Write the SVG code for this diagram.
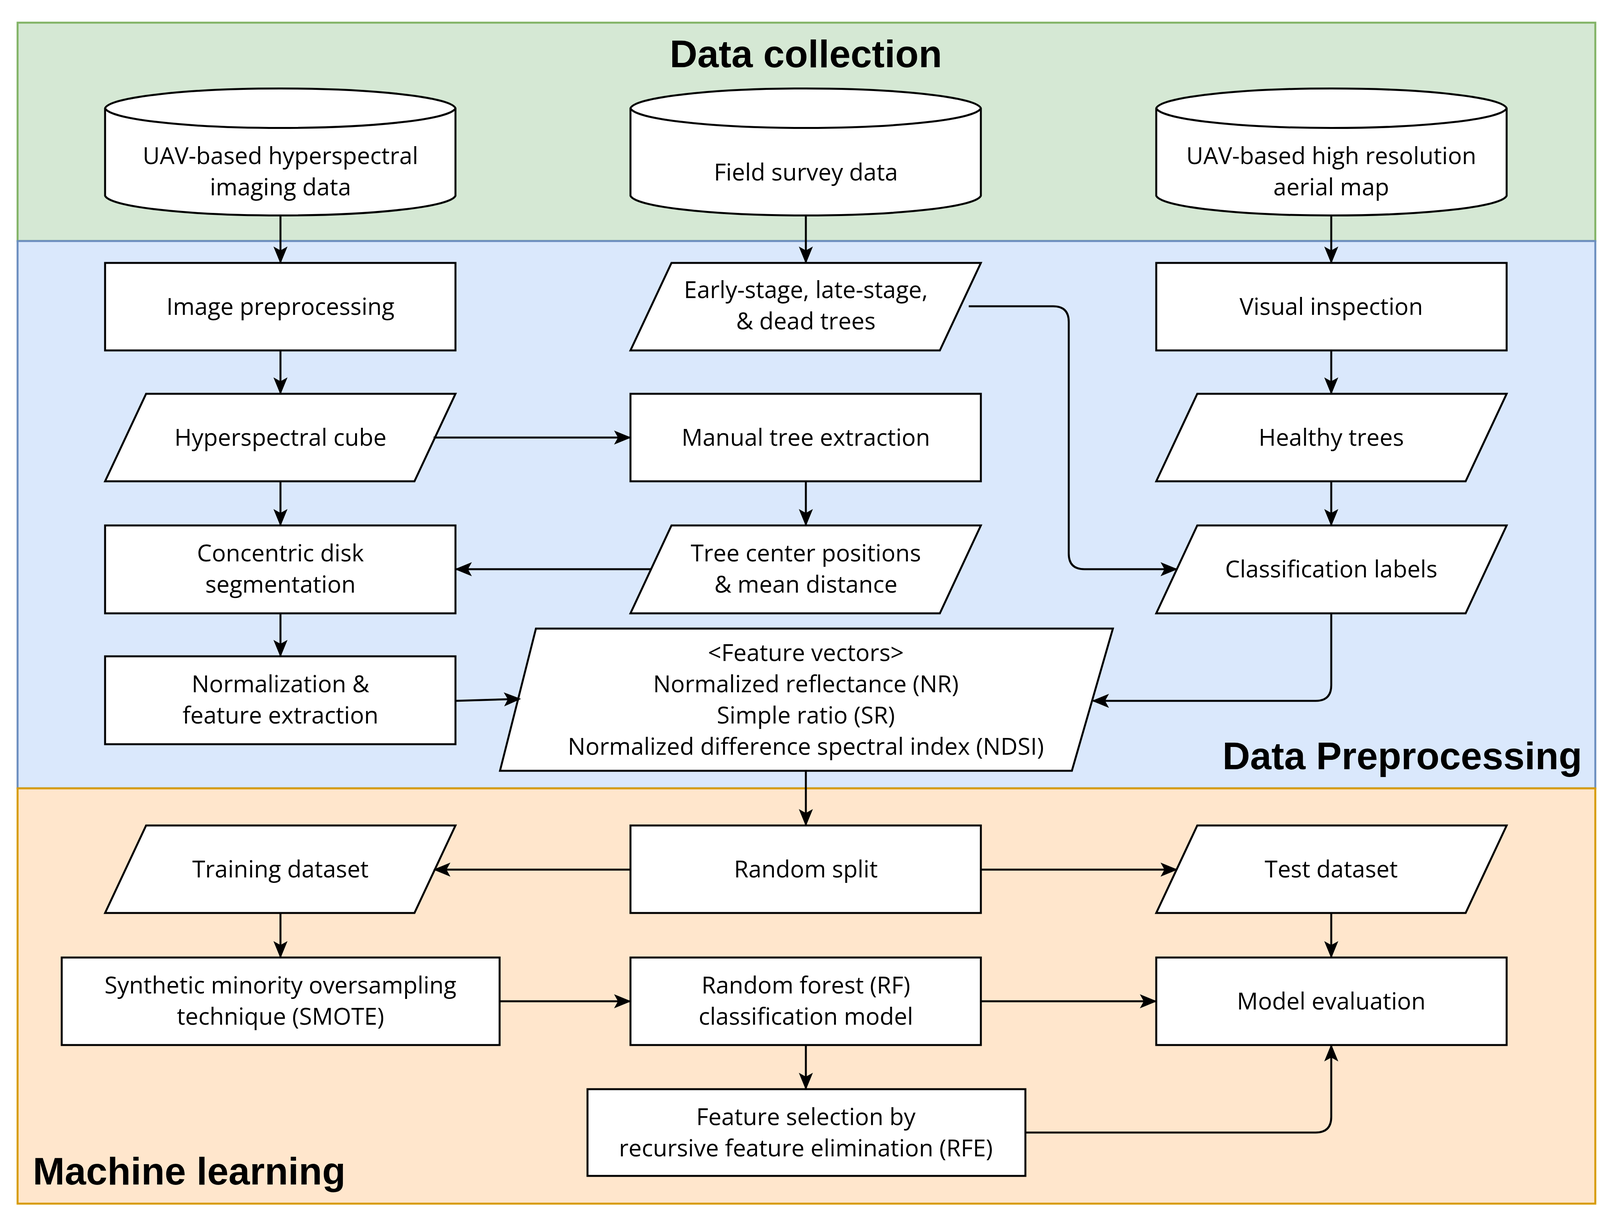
<svg xmlns="http://www.w3.org/2000/svg" width="4136" height="3128" viewBox="0 0 4136 3128">
<style>
.n{fill:#fff;stroke:#000;stroke-width:5}
.t{font-family:"Open Sans","Liberation Sans",Arial,sans-serif;font-size:60px;text-anchor:middle;fill:#000}
.h{font-family:"Liberation Sans",Arial,sans-serif;font-size:98px;font-weight:bold;fill:#000}
.c{fill:none;stroke:#000;stroke-width:5}
</style>
<defs><marker id="a" markerWidth="44" markerHeight="36" refX="40" refY="18" orient="auto" markerUnits="userSpaceOnUse" viewBox="0 0 44 36"><path d="M0,0 L44,18 L0,36 L10,18 Z" fill="#000"/></marker></defs>
<rect x="45" y="58" width="4039" height="559" fill="#d5e8d4" stroke="#82b366" stroke-width="5"/>
<rect x="45" y="617" width="4039" height="1401" fill="#dae8fc" stroke="#6c8ebf" stroke-width="5"/>
<rect x="45" y="2018" width="4039" height="1063" fill="#ffe6cc" stroke="#d79b00" stroke-width="5"/>
<text class="h" x="2063" y="172" text-anchor="middle">Data collection</text>
<text class="h" x="4050" y="1969" text-anchor="end">Data Preprocessing</text>
<text class="h" x="84" y="3032">Machine learning</text>
<g id="cyl1"><path class="n" d="M269,277 A449,53 0 0 1 1166,277 L1166,501 A449,53 0 0 1 269,501 Z"/><path class="c" d="M269,277 A449,53 0 0 0 1166,277"/><text class="t" x="718" y="420">UAV-based hyperspectral</text><text class="t" x="718" y="500">imaging data</text></g>
<g id="cyl2"><path class="n" d="M1614,277 A449,53 0 0 1 2511,277 L2511,501 A449,53 0 0 1 1614,501 Z"/><path class="c" d="M1614,277 A449,53 0 0 0 2511,277"/><text class="t" x="2063" y="462">Field survey data</text></g>
<g id="cyl3"><path class="n" d="M2960,277 A449,53 0 0 1 3857,277 L3857,501 A449,53 0 0 1 2960,501 Z"/><path class="c" d="M2960,277 A449,53 0 0 0 3857,277"/><text class="t" x="3408" y="420">UAV-based high resolution</text><text class="t" x="3408" y="500">aerial map</text></g>
<g id="imgpre"><rect class="n" x="269" y="673" width="897" height="224"/><text class="t" x="718" y="806">Image preprocessing</text></g>
<g id="early"><path class="n" d="M1719,673 L2511,673 L2406,897 L1614,897 Z"/><text class="t" x="2063" y="763">Early-stage, late-stage,</text><text class="t" x="2063" y="843">&amp; dead trees</text></g>
<g id="visual"><rect class="n" x="2960" y="673" width="897" height="224"/><text class="t" x="3408" y="806">Visual inspection</text></g>
<g id="cube"><path class="n" d="M374,1008 L1166,1008 L1061,1232 L269,1232 Z"/><text class="t" x="718" y="1141">Hyperspectral cube</text></g>
<g id="manual"><rect class="n" x="1614" y="1008" width="897" height="224"/><text class="t" x="2063" y="1141">Manual tree extraction</text></g>
<g id="healthy"><path class="n" d="M3065,1008 L3857,1008 L3752,1232 L2960,1232 Z"/><text class="t" x="3408" y="1141">Healthy trees</text></g>
<g id="conc"><rect class="n" x="269" y="1345" width="897" height="225"/><text class="t" x="718" y="1437">Concentric disk</text><text class="t" x="718" y="1517">segmentation</text></g>
<g id="center"><path class="n" d="M1719,1345 L2511,1345 L2406,1570 L1614,1570 Z"/><text class="t" x="2063" y="1437">Tree center positions</text><text class="t" x="2063" y="1517">&amp; mean distance</text></g>
<g id="labels"><path class="n" d="M3065,1345 L3857,1345 L3752,1570 L2960,1570 Z"/><text class="t" x="3408" y="1478">Classification labels</text></g>
<g id="norm"><rect class="n" x="269" y="1680" width="897" height="225"/><text class="t" x="718" y="1772">Normalization &amp;</text><text class="t" x="718" y="1852">feature extraction</text></g>
<g id="fv"><path class="n" d="M1372,1609 L2849,1609 L2744,1973 L1280,1973 Z"/><text class="t" x="2063" y="1692">&lt;Feature vectors&gt;</text><text class="t" x="2063" y="1772">Normalized reflectance (NR)</text><text class="t" x="2063" y="1852">Simple ratio (SR)</text><text class="t" x="2063" y="1932">Normalized difference spectral index (NDSI)</text></g>
<g id="train"><path class="n" d="M374,2113 L1166,2113 L1061,2337 L269,2337 Z"/><text class="t" x="718" y="2246">Training dataset</text></g>
<g id="split"><rect class="n" x="1614" y="2113" width="897" height="224"/><text class="t" x="2063" y="2246">Random split</text></g>
<g id="test"><path class="n" d="M3065,2113 L3857,2113 L3752,2337 L2960,2337 Z"/><text class="t" x="3408" y="2246">Test dataset</text></g>
<g id="smote"><rect class="n" x="158" y="2451" width="1121" height="224"/><text class="t" x="718" y="2543">Synthetic minority oversampling</text><text class="t" x="718" y="2623">technique (SMOTE)</text></g>
<g id="rf"><rect class="n" x="1614" y="2451" width="897" height="224"/><text class="t" x="2063" y="2543">Random forest (RF)</text><text class="t" x="2063" y="2623">classification model</text></g>
<g id="eval"><rect class="n" x="2960" y="2451" width="897" height="224"/><text class="t" x="3408" y="2584">Model evaluation</text></g>
<g id="fs"><rect class="n" x="1504" y="2788" width="1121" height="222"/><text class="t" x="2063" y="2880">Feature selection by</text><text class="t" x="2063" y="2960">recursive feature elimination (RFE)</text></g>
<g id="connectors">
<path class="c" marker-end="url(#a)" d="M718,554 V671"/>
<path class="c" marker-end="url(#a)" d="M2063,554 V671"/>
<path class="c" marker-end="url(#a)" d="M3408,554 V671"/>
<path class="c" marker-end="url(#a)" d="M718,897 V1006"/>
<path class="c" marker-end="url(#a)" d="M718,1232 V1343"/>
<path class="c" marker-end="url(#a)" d="M718,1570 V1678"/>
<path class="c" marker-end="url(#a)" d="M1110,1120 H1612"/>
<path class="c" marker-end="url(#a)" d="M2063,1232 V1343"/>
<path class="c" marker-end="url(#a)" d="M1667,1457 H1168"/>
<path class="c" marker-end="url(#a)" d="M2480,784 H2696 Q2736,784 2736,824 V1417 Q2736,1457 2776,1457 H3011"/>
<path class="c" marker-end="url(#a)" d="M3408,897 V1006"/>
<path class="c" marker-end="url(#a)" d="M3408,1232 V1343"/>
<path class="c" marker-end="url(#a)" d="M3408,1570 V1754 Q3408,1794 3368,1794 H2799"/>
<path class="c" marker-end="url(#a)" d="M1166,1794 L1330,1789"/>
<path class="c" marker-end="url(#a)" d="M2063,1973 V2111"/>
<path class="c" marker-end="url(#a)" d="M1614,2226 H1113"/>
<path class="c" marker-end="url(#a)" d="M2511,2226 H3011"/>
<path class="c" marker-end="url(#a)" d="M718,2337 V2449"/>
<path class="c" marker-end="url(#a)" d="M3408,2337 V2449"/>
<path class="c" marker-end="url(#a)" d="M1279,2563 H1612"/>
<path class="c" marker-end="url(#a)" d="M2511,2563 H2958"/>
<path class="c" marker-end="url(#a)" d="M2063,2675 V2786"/>
<path class="c" marker-end="url(#a)" d="M2625,2899 H3368 Q3408,2899 3408,2859 V2677"/>
</g>
</svg>
